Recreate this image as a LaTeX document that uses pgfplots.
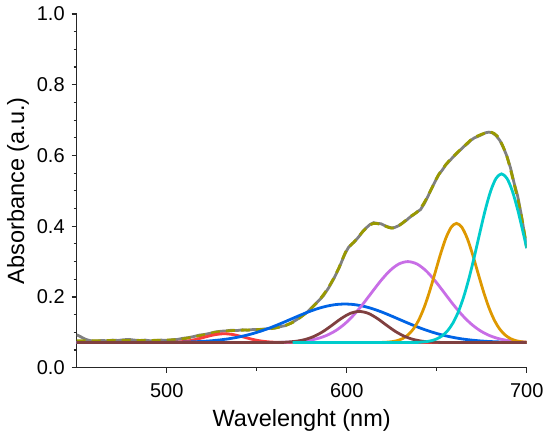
\documentclass[border=0pt]{standalone}
\usepackage{fontspec}
\setmainfont{Liberation Sans}
\usepackage{pgfplots}
\pgfplotsset{compat=1.18}
\definecolor{cgray}{RGB}{128,128,128}
\definecolor{colive}{RGB}{153,153,0}
\definecolor{cred}{RGB}{250,60,60}
\definecolor{cblue}{RGB}{0,100,230}
\definecolor{cbrown}{RGB}{128,64,64}
\definecolor{cpurple}{RGB}{200,110,230}
\definecolor{corange}{RGB}{222,152,0}
\definecolor{ccyan}{RGB}{0,204,204}
\begin{document}
\begin{tikzpicture}
\begin{axis}[
 scale only axis, width=225pt, height=176.85pt,
 xmin=450, xmax=700, ymin=0, ymax=1,
 axis x line*=bottom, axis y line*=left,
 axis line style={black!85, line width=0.7pt},
 xtick={500,600,700}, ytick={0,0.2,0.4,0.6,0.8,1.0},
 minor x tick num=1, minor y tick num=3,
 tick align=outside,
 major tick length=2.5pt, minor tick length=1.5pt,
 tick style={black!85, line width=0.6pt},
 /pgf/number format/assume math mode=true,
 yticklabel style={/pgf/number format/fixed, /pgf/number format/fixed zerofill, /pgf/number format/precision=1},
 xticklabel style={yshift=-2pt},
 tick label style={font=\fontsize{10}{12}\selectfont},
 label style={font=\fontsize{11.75}{14}\selectfont},
 xlabel={Wavelenght (nm)}, ylabel={Absorbance (a.u.)},
 xlabel style={at={(axis description cs:0.5,-0.1668)}, anchor=base},
 ylabel style={at={(axis description cs:-0.117,0.5)}, anchor=base},
]
% measured spectrum (grey)
\addplot[cgray, line width=1.4pt] coordinates {
(450,0.093)(452,0.088)(455,0.080)(458,0.076)(461,0.075)(464,0.077)(467,0.076)(470,0.078)(473,0.077)(476,0.079)(479,0.080)(482,0.078)(485,0.077)(488,0.078)(491,0.076)(494,0.077)(497,0.078)(500,0.077)(503,0.079)(506,0.080)(509,0.083)(512,0.085)(515,0.088)(518,0.092)(521,0.094)(524,0.097)(527,0.101)(530,0.103)(533,0.104)(536,0.106)(539,0.105)(542,0.107)(545,0.106)(548,0.108)(551,0.108)(554,0.109)(557,0.111)(560,0.112)(563,0.116)(566,0.119)(569,0.126)(572,0.135)(575,0.146)(578,0.157)(581,0.172)(584,0.187)(587,0.203)(590,0.226)(593,0.253)(596,0.285)(599,0.322)(601,0.340)(603,0.350)(605,0.360)(607,0.372)(609,0.386)(611,0.396)(613,0.405)(615,0.410)(617,0.408)(619,0.407)(621,0.402)(623,0.398)(625,0.395)(627,0.397)(629,0.402)(631,0.409)(633,0.416)(635,0.425)(637,0.432)(639,0.440)(641,0.447)(643,0.463)(645,0.483)(647,0.505)(649,0.525)(651,0.545)(653,0.558)(655,0.573)(657,0.584)(659,0.595)(661,0.605)(663,0.615)(665,0.625)(667,0.633)(669,0.643)(671,0.650)(673,0.654)(675,0.659)(677,0.664)(679,0.666)(681,0.664)(683,0.656)(685,0.643)(687,0.623)(689,0.598)(691,0.565)(693,0.522)(695,0.485)(697,0.432)(699,0.370)(700,0.338)
};
% cumulative fit (olive dashed)
\addplot[colive, line width=1.4pt, dash pattern=on 4.5pt off 3pt, smooth] coordinates {
(450,0.076)(460,0.076)(470,0.077)(480,0.077)(490,0.077)(500,0.078)(507,0.080)(513,0.085)(520,0.092)(527,0.100)(534,0.104)(541,0.106)(548,0.107)(555,0.109)(560,0.112)(565,0.118)(570,0.128)(575,0.145)(580,0.166)(585,0.193)(590,0.228)(595,0.275)(600,0.333)(604,0.355)(609,0.385)(612,0.400)(615,0.408)(619,0.405)(623,0.397)(626,0.395)(630,0.405)(635,0.426)(640,0.444)(644,0.475)(647,0.505)(651,0.545)(656,0.580)(661,0.606)(666,0.630)(670,0.648)(675,0.660)(679,0.666)(682,0.662)(685,0.645)(689,0.597)(693,0.520)(697,0.430)(700,0.340)
};
% red component
\addplot[cred, line width=1.4pt, smooth] coordinates {
(450,0.071)(497,0.0712)(502,0.0716)(507,0.0729)(512,0.0758)(517,0.0809)(522,0.0876)(527,0.0935)(532,0.096)(537,0.0935)(542,0.0876)(547,0.0809)(552,0.0758)(557,0.0729)(562,0.0716)(567,0.0712)(700,0.071)
};
% blue component
\addplot[cblue, line width=1.4pt, smooth] coordinates {
(450,0.071)(480,0.0711)(494,0.0714)(504,0.0717)(509,0.0722)(514,0.0730)(519,0.0741)(524,0.0758)(529,0.0782)(534,0.0814)(539,0.0858)(544,0.0913)(549,0.0982)(554,0.1064)(559,0.1158)(564,0.1262)(569,0.1371)(574,0.1480)(579,0.1583)(584,0.1672)(589,0.1741)(594,0.1785)(599,0.180)(604,0.1785)(609,0.1741)(614,0.1672)(619,0.1583)(624,0.1480)(629,0.1371)(634,0.1262)(639,0.1158)(644,0.1064)(649,0.0982)(654,0.0913)(659,0.0858)(664,0.0814)(669,0.0782)(674,0.0758)(679,0.0741)(684,0.0730)(689,0.0722)(694,0.0717)(700,0.0714)
};
% purple component
\addplot[cpurple, line width=1.4pt, smooth] coordinates {
(450,0.071)(554,0.0711)(564,0.0717)(569,0.0725)(574,0.0742)(579,0.0773)(584,0.0827)(589,0.0916)(594,0.1051)(599,0.1243)(604,0.1495)(609,0.1799)(614,0.2133)(619,0.2462)(624,0.2743)(629,0.2933)(634,0.300)(639,0.2933)(644,0.2743)(649,0.2462)(654,0.2133)(659,0.1799)(664,0.1495)(669,0.1243)(674,0.1051)(679,0.0916)(684,0.0827)(689,0.0773)(694,0.0742)(700,0.0723)
};
% orange component
\addplot[corange, line width=1.4pt, smooth] coordinates {
(600,0.071)(613,0.071)(619,0.0714)(622,0.0721)(625,0.0735)(628,0.0765)(631,0.0822)(634,0.0924)(637,0.1092)(640,0.1346)(643,0.1700)(646,0.2149)(649,0.2665)(652,0.3191)(655,0.3651)(658,0.3967)(661,0.408)(664,0.3967)(667,0.3651)(670,0.3191)(673,0.2665)(676,0.2149)(679,0.1700)(682,0.1346)(685,0.1092)(688,0.0924)(691,0.0822)(694,0.0765)(697,0.0735)(700,0.0721)
};
% brown component
\addplot[cbrown, line width=1.4pt, smooth] coordinates {
(450,0.071)(557,0.0712)(562,0.0715)(567,0.0725)(572,0.0749)(577,0.0799)(582,0.0889)(587,0.1027)(592,0.1206)(597,0.1392)(602,0.1536)(607,0.159)(612,0.1536)(617,0.1392)(622,0.1206)(627,0.1027)(632,0.0889)(637,0.0799)(642,0.0749)(647,0.0725)(652,0.0715)(657,0.0712)(700,0.071)
};
% cyan component
\addplot[ccyan, line width=1.4pt, smooth] coordinates {
(570,0.071)(635,0.071)(638,0.0715)(641,0.0722)(644,0.0736)(647,0.0763)(650,0.0813)(653,0.0900)(656,0.1043)(659,0.1262)(662,0.1578)(665,0.2004)(668,0.2539)(671,0.3161)(674,0.3825)(677,0.4464)(680,0.4998)(683,0.5355)(686,0.548)(689,0.5355)(692,0.4998)(695,0.4464)(698,0.3825)(700,0.3381)
};
\end{axis}
\pgfresetboundingbox
\useasboundingbox (current axis.south west) ++(-38.35pt,-34.65pt) rectangle ++(275pt,218.5pt);
\end{tikzpicture}
\end{document}
